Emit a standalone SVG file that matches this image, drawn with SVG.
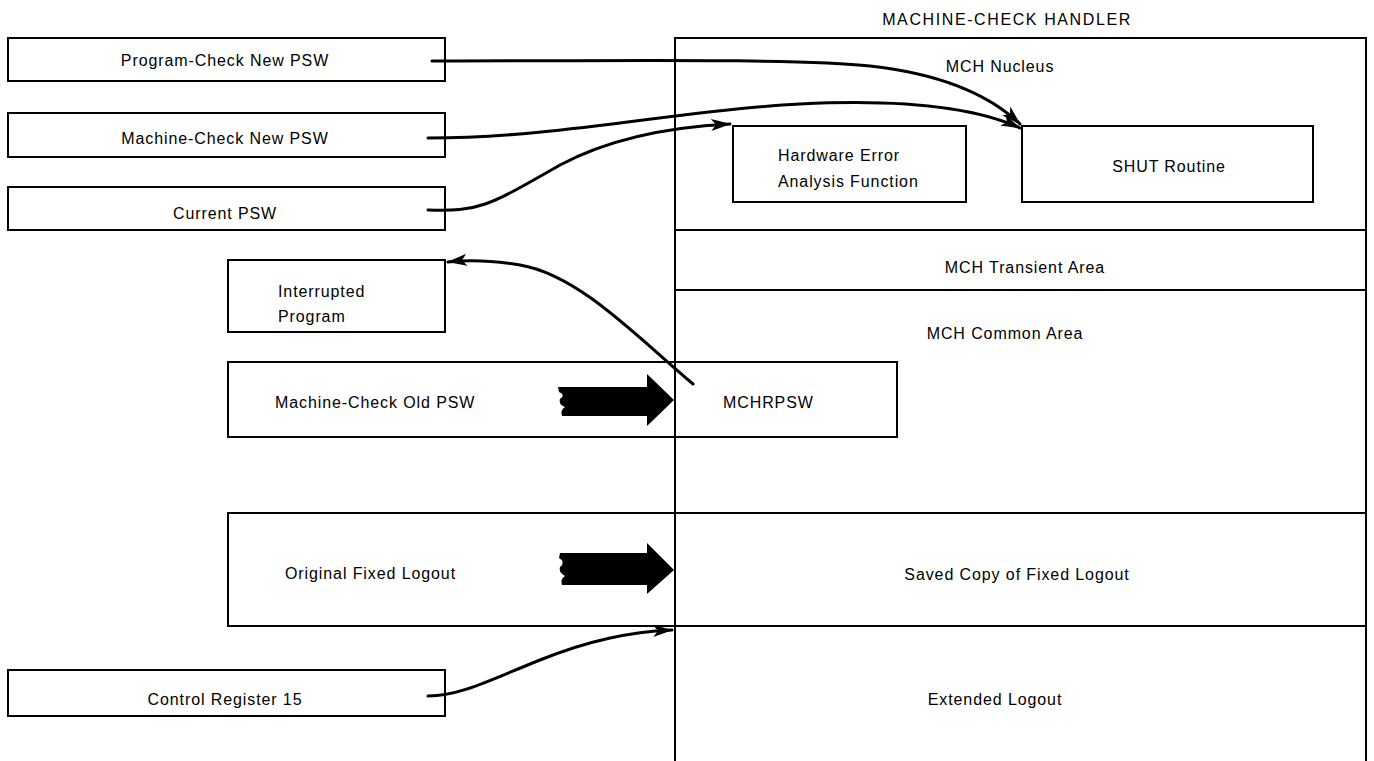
<svg xmlns="http://www.w3.org/2000/svg" width="1374" height="761" viewBox="0 0 1374 761">
<style>
.box{fill:none;stroke:#000;stroke-width:2}
.ln{fill:none;stroke:#000;stroke-width:2}
.t{font-family:"Liberation Sans",Arial,sans-serif;font-size:16px;letter-spacing:0.9px;fill:#000}
.c{text-anchor:middle}
.ttl{letter-spacing:1.6px}
.conn{fill:none;stroke:#000;stroke-width:3;stroke-linecap:round}
.big{fill:#000;stroke:none}
</style>
<defs>
<marker id="ah" viewBox="0 0 20 12" refX="19" refY="6" markerWidth="20" markerHeight="12" markerUnits="userSpaceOnUse" orient="auto">
<path d="M0,0 L20,6 L0,12 L5,6 Z" fill="#000"/>
</marker>
</defs>
<rect width="1374" height="761" fill="#fff"/>
<text class="t c ttl" x="1007" y="25">MACHINE-CHECK HANDLER</text>
<g id="mch">
<path class="ln" d="M675,761 V38 H1366 V761"/>
<line class="ln" x1="675" y1="230" x2="1366" y2="230"/>
<line class="ln" x1="675" y1="290" x2="1366" y2="290"/>
<text class="t c" x="1000" y="72">MCH Nucleus</text>
<text class="t c" x="1025" y="273">MCH Transient Area</text>
<text class="t c" x="1005" y="339">MCH Common Area</text>
<text class="t c" x="995" y="705">Extended Logout</text>
</g>
<g id="pcnew"><rect class="box" x="8" y="38" width="437" height="43"/><text class="t c" x="225" y="66">Program-Check New PSW</text></g>
<g id="mcnew"><rect class="box" x="8" y="113" width="437" height="44"/><text class="t c" x="225" y="144">Machine-Check New PSW</text></g>
<g id="cur"><rect class="box" x="8" y="187" width="437" height="43"/><text class="t c" x="225" y="219">Current PSW</text></g>
<g id="hw"><rect class="box" x="733" y="126" width="233" height="76"/><text class="t" x="778" y="161">Hardware Error</text><text class="t" x="778" y="187">Analysis Function</text></g>
<g id="shut"><rect class="box" x="1022" y="126" width="291" height="76"/><text class="t c" x="1169" y="172">SHUT Routine</text></g>
<g id="intr"><rect class="box" x="228" y="260" width="217" height="72"/><text class="t" x="278" y="297">Interrupted</text><text class="t" x="278" y="322">Program</text></g>
<g id="mcold"><rect class="box" x="228" y="362" width="669" height="75"/><text class="t" x="275" y="408">Machine-Check Old PSW</text><text class="t" x="723" y="408">MCHRPSW</text></g>
<g id="fixed"><path class="ln" d="M1366,513 H228 V626 H1366"/><text class="t" x="285" y="579">Original Fixed Logout</text><text class="t c" x="1017" y="580">Saved Copy of Fixed Logout</text></g>
<g id="cr15"><rect class="box" x="8" y="670" width="437" height="46"/><text class="t c" x="225" y="705">Control Register 15</text></g>
<g id="connectors">
<path class="conn" marker-end="url(#ah)" d="M432,61 C600,61 800,58 870,66 C960,76 1000,105 1020,124"/>
<path class="conn" marker-end="url(#ah)" d="M428,138 C560,138 680,110 800,104 C920,98 985,112 1020,128"/>
<path class="conn" marker-end="url(#ah)" d="M428,210 C480,212 490,205 560,165 C620,133 690,126 730,124"/>
<path class="conn" marker-end="url(#ah)" d="M693,384 C640,340 580,275 520,265 C490,260 465,260 448,262"/>
<path class="conn" marker-end="url(#ah)" d="M428,696 C460,696 490,680 540,660 C590,640 630,632 672,630"/>
<path class="big" d="M558,387 L647,387 L647,374 L674,400 L647,426 L647,416 L562,416 Q560,410 565,407 Q558,404 560,399 Q566,395 559,392 Z"/>
<path class="big" d="M560,553 L647,553 L647,543 L674,570 L647,594 L647,585 L562,585 Q560,579 565,576 Q558,572 560,567 Q566,562 559,558 Z"/>
</g>
</svg>
